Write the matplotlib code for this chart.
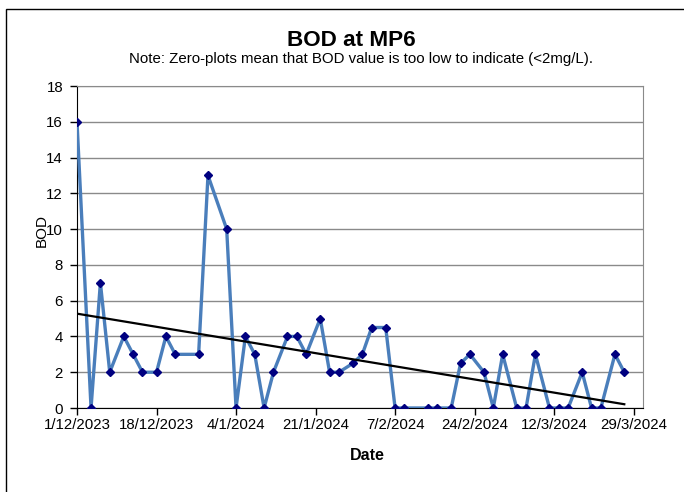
import numpy as np
import matplotlib
matplotlib.use('Agg')
import matplotlib.pyplot as plt
import matplotlib.dates as mdates
from matplotlib.patches import Rectangle
from datetime import date

plt.rcParams['font.family'] = ['Liberation Sans', 'DejaVu Sans']

# sample dates and BOD values (mg/L)
sampleDates = ['2023-12-01', '2023-12-04', '2023-12-06', '2023-12-08', '2023-12-11',
               '2023-12-13', '2023-12-15', '2023-12-18', '2023-12-20', '2023-12-22',
               '2023-12-27', '2023-12-29', '2024-01-02', '2024-01-04', '2024-01-06',
               '2024-01-08', '2024-01-10', '2024-01-12', '2024-01-15', '2024-01-17',
               '2024-01-19', '2024-01-22', '2024-01-24', '2024-01-26', '2024-01-29',
               '2024-01-31', '2024-02-02', '2024-02-05', '2024-02-07', '2024-02-09',
               '2024-02-14', '2024-02-16', '2024-02-19', '2024-02-21', '2024-02-23',
               '2024-02-26', '2024-02-28', '2024-03-01', '2024-03-04', '2024-03-06',
               '2024-03-08', '2024-03-11', '2024-03-13', '2024-03-15', '2024-03-18',
               '2024-03-20', '2024-03-22', '2024-03-25', '2024-03-27']
bodValues = [16, 0, 7, 2, 4,
             3, 2, 2, 4, 3,
             3, 13, 10, 0, 4,
             3, 0, 2, 4, 4,
             3, 5, 2, 2, 2.5,
             3, 4.5, 4.5, 0, 0,
             0, 0, 0, 2.5, 3,
             2, 0, 3, 0, 0,
             3, 0, 0, 0, 2,
             0, 0, 3, 2]

tickDates = ['2023-12-01', '2023-12-18', '2024-01-04', '2024-01-21',
             '2024-02-07', '2024-02-24', '2024-03-12', '2024-03-29']
tickLabels = ['1/12/2023', '18/12/2023', '4/1/2024', '21/1/2024',
              '7/2/2024', '24/2/2024', '12/3/2024', '29/3/2024']

toNum = lambda s: mdates.date2num(date.fromisoformat(s))

x = np.array([toNum(d) for d in sampleDates])
y = np.array(bodValues, dtype=float)

fig = plt.figure(figsize=(6.84, 4.92), dpi=100)

# outer chart frame
fig.patches.append(Rectangle((6 / 684, -0.1), 1.2, (1 - 9 / 492) + 0.1,
                             transform=fig.transFigure, fill=False,
                             edgecolor='black', linewidth=1.0, zorder=0))

ax = fig.add_axes([77 / 684, 1 - 408 / 492, (643 - 77) / 684, (408 - 86) / 492])

ax.plot(x, y, color='#4a7ebb', linewidth=2.4, zorder=3)
ax.plot(x, y, linestyle='none', marker='D', markersize=3.8,
        color='#000080', zorder=4)

# linear trend line
slope, intercept = np.polyfit(x - x[0], y, 1)
trendX = np.array([x[0], x[-1]])
ax.plot(trendX, slope * (trendX - x[0]) + intercept, color='black',
        linewidth=1.6, zorder=5)

ax.set_xlim(toNum('2023-12-01'), toNum('2024-03-31'))
ax.set_ylim(0, 18)
ax.set_yticks(np.arange(0, 19, 2))
ax.set_xticks([toNum(d) for d in tickDates])
ax.set_xticklabels(tickLabels)

ax.grid(axis='y', color='#8a8a8a', linewidth=1.0, zorder=1)
ax.set_axisbelow(True)
for side in ['top', 'right']:
    ax.spines[side].set_color('#8a8a8a')
for side in ['left', 'bottom']:
    ax.spines[side].set_color('black')

ax.tick_params(axis='both', labelsize=10.8, length=5, width=1, direction='out')
ax.tick_params(axis='x', pad=2)
ax.tick_params(axis='y', pad=5)

ax.set_xlabel('Date', fontsize=11.5, fontweight='bold')
ax.xaxis.set_label_coords(0.513, -0.125)
ax.set_ylabel('BOD', fontsize=11)
ax.yaxis.set_label_coords(-0.05, 0.55)

fig.text(351 / 684, 1 - 41 / 492, 'BOD at MP6', ha='center', va='center',
         fontsize=16.2, fontweight='bold')
fig.text(361 / 684, 1 - 59 / 492,
         'Note: Zero-plots mean that BOD value is too low to indicate (<2mg/L).',
         ha='center', va='center', fontsize=10.8)

fig.savefig('out.png', dpi=100)
